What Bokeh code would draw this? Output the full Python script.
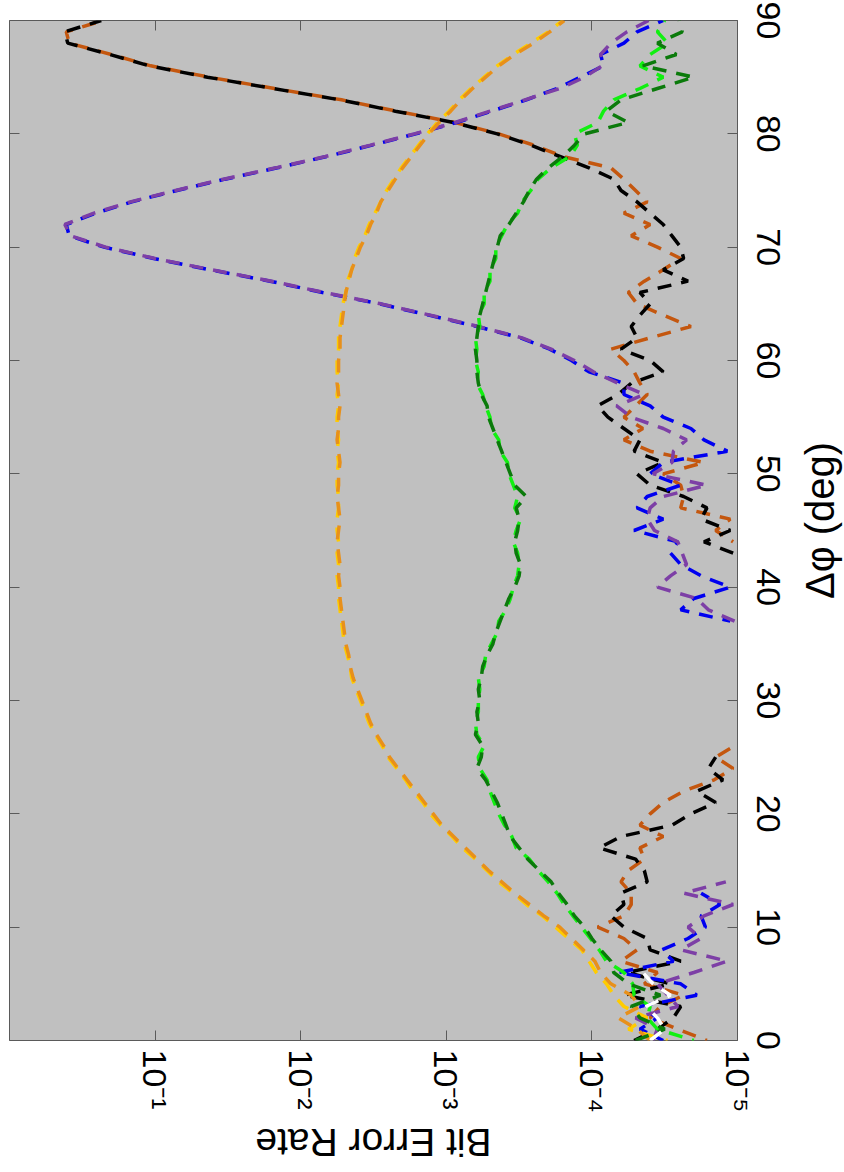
import math
import numpy as np
from bokeh.plotting import figure
from bokeh.layouts import column, row
from bokeh.core.properties import value
from bokeh.models import (Range1d, FixedTicker, CustomJSTickFormatter, LinearAxis,
                          LogAxis, ColumnDataSource)
from bokeh.embed import file_html
from bokeh.resources import INLINE

nan = float("nan")

# Δφ grid (deg)
phi_deg = list(range(0, 91))

# log10(BER) for every series, one value per degree (nan = no errors counted)
orange_exp = [-4.40, -4.31, -4.18, -4.33, -4.27, -4.13, -4.06, -4.02, -3.94, -3.86,
              -3.78, -3.67, -3.57, -3.47, -3.38, -3.29, -3.21, -3.13, -3.05, -2.97,
              -2.91, -2.85, -2.79, -2.73, -2.67, -2.61, -2.57, -2.52, -2.48, -2.45,
              -2.42, -2.39, -2.36, -2.34, -2.33, -2.31, -2.30, -2.29, -2.28, -2.27,
              -2.27, -2.26, -2.27, -2.26, -2.25, -2.26, -2.27, -2.26, -2.25, -2.26,
              -2.26, -2.27, -2.26, -2.25, -2.26, -2.26, -2.27, -2.26, -2.25, -2.26,
              -2.26, -2.27, -2.27, -2.28, -2.29, -2.30, -2.31, -2.33, -2.35, -2.38,
              -2.41, -2.45, -2.48, -2.52, -2.55, -2.60, -2.65, -2.70, -2.76, -2.82,
              -2.88, -2.95, -3.03, -3.10, -3.18, -3.27, -3.36, -3.47, -3.60, -3.71,
              -3.81]
yellow_exp = [-4.52, -4.25, -4.38, -4.22, -4.15, -4.10, -4.03, -3.98, -3.93, -3.84,
              -3.75, -3.66, -3.55, -3.46, -3.36, -3.28, -3.20, -3.11, -3.04, -2.96,
              -2.89, -2.84, -2.77, -2.72, -2.66, -2.60, -2.56, -2.51, -2.47, -2.44,
              -2.41, -2.38, -2.35, -2.34, -2.32, -2.30, -2.29, -2.28, -2.27, -2.26,
              -2.26, -2.25, -2.26, -2.25, -2.26, -2.25, -2.25, -2.26, -2.26, -2.25,
              -2.25, -2.26, -2.25, -2.26, -2.25, -2.25, -2.26, -2.25, -2.26, -2.25,
              -2.25, -2.26, -2.26, -2.27, -2.28, -2.29, -2.31, -2.32, -2.35, -2.37,
              -2.40, -2.44, -2.47, -2.51, -2.55, -2.59, -2.64, -2.69, -2.75, -2.81,
              -2.87, -2.94, -3.02, -3.09, -3.17, -3.26, -3.35, -3.46, -3.58, -3.70,
              -3.80]
dkgreen_exp = [-4.30, -4.50, -4.33, -4.27, -4.47, -4.25, -4.15, -4.13, -4.06, -4.00,
               -3.95, -3.88, -3.83, -3.77, -3.72, -3.64, -3.56, -3.50, -3.44, -3.41,
               -3.38, -3.35, -3.31, -3.27, -3.21, -3.24, -3.25, -3.20, -3.22, -3.21,
               -3.23, -3.22, -3.24, -3.25, -3.28, -3.32, -3.34, -3.37, -3.40, -3.43,
               -3.47, -3.50, -3.51, -3.48, -3.47, -3.49, -3.50, -3.48, -3.55, -3.47,
               -3.44, -3.41, -3.38, -3.35, -3.32, -3.29, -3.28, -3.24, -3.22, -3.21,
               -3.21, -3.20, -3.21, -3.22, -3.23, -3.25, -3.27, -3.29, -3.31, -3.33,
               -3.35, -3.37, -3.43, -3.48, -3.53, -3.57, -3.62, -3.70, -3.80, -3.88,
               -3.95, -4.25, -4.10, -4.20, -4.45, -4.70, -4.35, -4.58, -4.45, -4.62,
               -4.60]
ltgreen_exp = [-4.70, -4.45, -4.38, -4.40, -4.29, -4.28, -4.22, -4.10, -4.05, -3.99,
               -3.93, -3.87, -3.81, -3.76, -3.70, -3.63, -3.57, -3.48, -3.45, -3.40,
               -3.36, -3.33, -3.30, -3.28, -3.23, -3.22, -3.26, -3.21, -3.20, -3.22,
               -3.22, -3.23, -3.22, -3.26, -3.27, -3.31, -3.35, -3.36, -3.41, -3.44,
               -3.46, -3.49, -3.50, -3.49, -3.46, -3.48, -3.51, -3.47, -3.49, -3.46,
               -3.43, -3.42, -3.37, -3.36, -3.31, -3.30, -3.27, -3.25, -3.21, -3.22,
               -3.20, -3.21, -3.20, -3.23, -3.22, -3.26, -3.26, -3.30, -3.30, -3.34,
               -3.34, -3.38, -3.42, -3.49, -3.52, -3.58, -3.63, -3.72, -3.85, -3.90,
               -3.88, -4.04, -4.08, -4.15, -4.33, -4.49, -4.33, -4.40, -4.52, -4.45,
               -4.50]
purple_exp = ([-4.42, -4.45, -4.30, -4.59, -4.52, -4.45, -4.70, -4.93, -4.61, -4.75,
               -4.66, -4.77, -4.97, -4.63, -4.92]
              + [nan] * 22 +
              [-4.98, -4.80, -4.72, -4.45, -4.54, -4.65, -4.62, -4.59, -4.43, -4.38,
               -4.40, -4.49, -4.79, -4.42, -4.55, -4.56, -4.65, -4.49, -4.27, -4.17,
               -4.36, -4.18, -4.01, -3.88, -3.72, -3.52, -3.22, -2.89, -2.55, -2.16,
               -1.80, -1.39, -1.00, -0.66, -0.42, -0.38, -0.58, -0.83, -1.14, -1.47,
               -1.83, -2.17, -2.48, -2.78, -3.06, -3.30, -3.54, -3.78, -3.95, -4.07,
               -4.06, -4.13, -4.24, -4.39])
blue_exp = ([-4.49, -4.33, -4.45, -4.33, -4.72, -4.61, -4.18, -4.56, -4.48, -4.66,
             -4.78, -4.75, -4.88, -4.75]
            + [nan] * 23 +
            [-4.95, -4.61, -4.70, -4.95, -4.75, -4.61, -4.54, -4.59, -4.29, -4.49,
             -4.31, -4.38, -4.61, -4.40, -4.49, -4.93, -4.77, -4.68, -4.49, -4.40,
             -4.22, -4.22, -3.98, -3.86, -3.71, -3.51, -3.21, -2.88, -2.54, -2.15,
             -1.79, -1.38, -0.99, -0.65, -0.41, -0.39, -0.59, -0.84, -1.15, -1.48,
             -1.84, -2.18, -2.49, -2.79, -3.07, -3.31, -3.55, -3.76, -3.92, -4.08,
             -4.06, -4.22, -4.31, -4.49])
black_exp = ([-4.29, -4.45, -4.56, -4.61, -4.22, -4.54, -4.24, -4.61, -4.40, -4.38,
              -4.22, -4.13, -4.22, -4.20, -4.38, -4.36, -4.30, -4.05, -4.20, -4.55,
              -4.68, -4.85, -4.72, -4.90, -4.80, -4.85]
             + [nan] * 17 +
             [-4.97, -4.77, -4.95, -4.75, -4.79, -4.63, -4.40, -4.31, -4.49, -4.29,
              -4.33, -4.22, -4.11, -4.04, -4.18, -4.27, -4.49, -4.40, -4.20, -4.31,
              -4.27, -4.33, -4.40, -4.33, -4.66, -4.49, -4.63, -4.61, -4.55, -4.49,
              -4.40, -4.31, -4.20, -4.15, -3.98, -3.78, -3.58, -3.35, -3.05, -2.65,
              -2.27, -1.81, -1.36, -0.96, -0.69, -0.40, -0.38, -0.63])
brown_exp = ([-4.79, -4.59, -4.40, -4.47, -4.63, -4.36, -4.45, -4.20, -4.31, -4.22,
              -4.04, -4.22, -4.27, -4.27, -4.20, -4.25, -4.36, -4.33, -4.49, -4.33,
              -4.40, -4.49, -4.63, -4.84, -4.97, -4.85, -4.98]
             + [nan] * 17 +
             [-4.97, -4.85, -4.95, -4.61, -4.63, -4.61, -4.49, -4.77, -4.40, -4.22,
              -4.35, -4.22, -4.30, -4.38, -4.33, -4.29, -4.22, -4.13, -4.40, -4.68,
              -4.49, -4.31, -4.25, -4.36, -4.49, -4.61, -4.45, -4.27, -4.40, -4.22,
              -4.38, -4.30, -4.22, -4.13, -3.80, -3.60, -3.36, -3.06, -2.66, -2.28,
              -1.82, -1.37, -0.97, -0.70, -0.41, -0.39, -0.64])
white_exp = [-4.40, -4.50, -4.45, -4.37, -4.54, -4.42, -4.35] + [nan] * 84

# axis ticks and titles
ber_ticks = [1e-5, 1e-4, 1e-3, 1e-2, 1e-1]
ber_tick_labels = ["10\u207b\u2075", "10\u207b\u2074", "10\u207b\u00b3", "10\u207b\u00b2", "10\u207b\u00b9"]
phi_ticks = [0, 10, 20, 30, 40, 50, 60, 70, 80, 90]
ber_title = "Bit Error Rate"
phi_title = "\u0394\u03c6 (deg)"

FONT = "Liberation Sans"
EDGE = "#5a5a5a"

# ---- layout sizes (pixels)
BL, BT, FW, FH, BR, BB = 9, 20, 728, 1020, 60, 80
MAIN_W = BL + FW + BR
MAIN_H = BT + FH + BB
SIDE_W = 844 - MAIN_W
LOW_H = 1170 - MAIN_H

p = figure(frame_width=FW, frame_height=FH, x_axis_type="log",
           x_range=Range1d(1.0, 1e-5), y_range=Range1d(0, 90),
           y_axis_location="right", output_backend="svg", toolbar_location=None,
           min_border_left=BL, min_border_top=BT, min_border_right=BR, min_border_bottom=BB)
p.background_fill_color = "#C0C0C0"
p.border_fill_color = "white"
p.outline_line_color = EDGE
p.outline_line_width = 1
p.grid.visible = False

xa = p.xaxis[0]
xa.ticker = FixedTicker(ticks=ber_ticks, minor_ticks=[])
xa.formatter = CustomJSTickFormatter(args=dict(tvals=ber_ticks, tlabels=ber_tick_labels), code="""
let best = 0, bd = Infinity;
for (let i = 0; i < tvals.length; i++) {
  const d = Math.abs(Math.log10(tick) - Math.log10(tvals[i]));
  if (d < bd) { bd = d; best = i; }
}
return tlabels[best];
""")
xa.major_label_orientation = "vertical"

ya = p.yaxis[0]
ya.ticker = FixedTicker(ticks=phi_ticks, minor_ticks=[])
ya.major_label_orientation = "vertical"

for ax in (xa, ya):
    ax.axis_line_color = None
    ax.major_tick_in = 10
    ax.major_tick_out = 0
    ax.major_tick_line_color = EDGE
    ax.minor_tick_line_color = None
    ax.major_label_text_font = FONT
    ax.major_label_text_font_size = "34px"
    ax.major_label_text_color = "black"
xa.major_label_standoff = 9
ya.major_label_standoff = 19

blank = CustomJSTickFormatter(code="return '';")
left_ax = LinearAxis(ticker=FixedTicker(ticks=phi_ticks, minor_ticks=[]), formatter=blank,
                     major_label_text_font_size="0px", major_label_standoff=0,
                     major_tick_in=10, major_tick_out=0, major_tick_line_color=EDGE,
                     minor_tick_line_color=None, axis_line_color=None)
top_ax = LogAxis(ticker=FixedTicker(ticks=ber_ticks, minor_ticks=[]), formatter=blank,
                 major_label_text_font_size="0px", major_label_standoff=0,
                 major_tick_in=10, major_tick_out=0, major_tick_line_color=EDGE,
                 minor_tick_line_color=None, axis_line_color=None)
p.add_layout(left_ax, "left")
p.add_layout(top_ax, "above")

series = [
    (brown_exp, "#C4570F", 12),
    (black_exp, "#000000", 0),
    (blue_exp, "#0000F0", 6),
    (purple_exp, "#7D3FA6", 0),
    (yellow_exp, "#FFCC00", 12),
    (orange_exp, "#E8901A", 0),
    (ltgreen_exp, "#11F011", 12),
    (dkgreen_exp, "#0B7A0B", 0),
    (white_exp, "#FFFFFF", 0),
]
phi_arr = np.array(phi_deg, dtype=float)
for exps, color, off in series:
    ber = np.power(10.0, np.array(exps, dtype=float))
    src = ColumnDataSource(dict(ber=ber, phi=phi_arr))
    p.line("ber", "phi", source=src, line_color=color, line_width=3.5,
           line_dash="14 10", line_dash_offset=off)


def title_panel(w, h):
    f = figure(width=w, height=h, x_range=Range1d(0, w), y_range=Range1d(0, h),
               output_backend="svg", toolbar_location=None, min_border=0)
    f.axis.visible = False
    f.grid.visible = False
    f.outline_line_color = None
    f.background_fill_color = "white"
    f.border_fill_color = "white"
    return f


# right-hand axis title (reads bottom to top), pixel coordinates inside its own panel
side = title_panel(SIDE_W, MAIN_H)
side.text(x=[819 - MAIN_W], y=[MAIN_H - 549], text=[phi_title], angle=math.pi / 2,
          text_align="center", text_baseline="middle", text_font=value(FONT),
          text_font_size="40px", text_color="black")

# bottom axis title (upside down, as in the rotated original)
low = title_panel(844, LOW_H)
low.text(x=[BL + FW / 2], y=[LOW_H - (1142 - MAIN_H)], text=[ber_title], angle=math.pi,
         text_align="center", text_baseline="middle", text_font=value(FONT),
         text_font_size="39px", text_color="black")

layout = column(row(p, side, spacing=0), low, spacing=0)
open("out.html", "w").write(file_html(layout, INLINE))
